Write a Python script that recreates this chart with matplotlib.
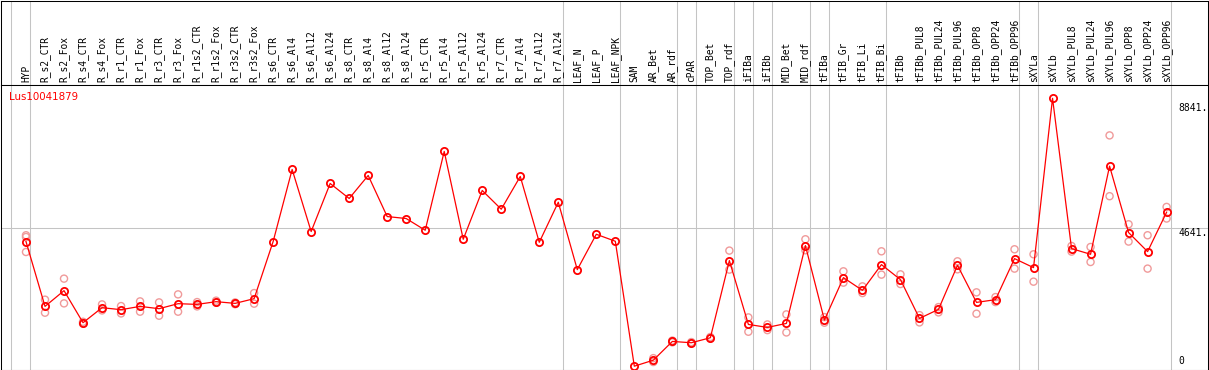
import matplotlib
matplotlib.use("Agg")
import matplotlib.pyplot as plt
import matplotlib.transforms as mtransforms

gene = "Lus10041879"

samples = [
    "HYP", "R_s2_CTR", "R_s2_Fox", "R_s4_CTR", "R_s4_Fox", "R_r1_CTR", "R_r1_Fox",
    "R_r3_CTR", "R_r3_Fox", "R_r1s2_CTR", "R_r1s2_Fox", "R_r3s2_CTR", "R_r3s2_Fox",
    "R_s6_CTR", "R_s6_Al4", "R_s6_Al12", "R_s6_Al24", "R_s8_CTR", "R_s8_Al4",
    "R_s8_Al12", "R_s8_Al24", "R_r5_CTR", "R_r5_Al4", "R_r5_Al12", "R_r5_Al24",
    "R_r7_CTR", "R_r7_Al4", "R_r7_Al12", "R_r7_Al24", "LEAF_N", "LEAF_P", "LEAF_NPK",
    "SAM", "AR_Bet", "AR_rdf", "cPAR", "TOP_Bet", "TOP_rdf", "iFIBa", "iFIBb",
    "MID_Bet", "MID_rdf", "tFIBa", "tFIB_Gr", "tFIB_Li", "tFIB_Bi", "tFIBb",
    "tFIBb_PUL8", "tFIBb_PUL24", "tFIBb_PUL96", "tFIBb_OPP8", "tFIBb_OPP24",
    "tFIBb_OPP96", "sXYLa", "sXYLb", "sXYLb_PUL8", "sXYLb_PUL24", "sXYLb_PUL96",
    "sXYLb_OPP8", "sXYLb_OPP24", "sXYLb_OPP96",
]

means = [
    4194, 2018, 2546, 1470, 1974, 1907, 2018, 1940, 2109, 2085, 2176, 2119, 2277,
    4194, 6615, 4530, 6144, 5640, 6413, 5034, 4967, 4574, 7220, 4271, 5909,
    5280, 6380, 4170, 5515, 3252, 4439, 4204,
    10, 212, 841, 797, 965, 3555, 1412, 1312, 1446, 4059, 1557, 2983, 2556, 3420,
    2916, 1614, 1917, 3397, 2152, 2243, 3622, 3319, 9003, 3958, 3767, 6726, 4496,
    3857, 5179,
]

replicates = [
    [4406, 4348, 3844], [2243, 1806], [2949, 2119], [1500, 1440], [2085, 1883],
    [2028, 1782], [2186, 1840], [2152, 1705], [2421, 1840], [2162, 2018],
    [2210, 2142], [2150, 2090], [2465, 2109],
    [], [], [], [], [], [], [], [], [], [], [], [], [], [], [], [], [], [], [],
    [], [280, 150], [870, 810], [820, 775], [990, 940], [3891, 3252],
    [1648, 1167], [1412, 1221], [1749, 1143], [4271, 3901], [1658, 1470],
    [3195, 2815], [2690, 2465], [3867, 3084], [3094, 2768], [1725, 1480],
    [1994, 1816], [3531, 3262], [2489, 1772], [2331, 2162], [3935, 3286],
    [3767, 2848], [], [4046, 3857], [4012, 3508], [7758, 5717], [4775, 4194],
    [4406, 3286], [5357, 4967],
]

# last sample index of each group (gray separators drawn just after it)
group_ends = [-1, 0, 28, 31, 34, 35, 37, 38, 39, 41, 42, 45, 52, 53, 60]
y_labels = [8841, 4641, 0]

W, H = 1209, 370
fig = plt.figure(figsize=(W / 100, H / 100), dpi=100)


def box(x0, y0, x1, y1):
    # pixel box measured from the top-left corner
    return [x0 / W, 1 - y1 / H, (x1 - x0) / W, (y1 - y0) / H]


step = 19.01
x_first = 26
xlim = ((1 - x_first) / step, (1208 - x_first) / step)

head = fig.add_axes(box(1, 0.5, 1208, 85))
ax = fig.add_axes(box(1, 85, 1208, 369.5))

for a in (head, ax):
    a.set_xlim(*xlim)
    a.set_xticks([])
    a.set_yticks([])
    for s in a.spines.values():
        s.set_linewidth(0.75)
        s.set_color("black")
    for g in group_ends:
        a.axvline(g + 0.23, color="#c4c4c4", lw=0.75, zorder=0)

head.set_ylim(0, 1)
trans = mtransforms.blended_transform_factory(head.transData, head.transAxes)
for i, name in enumerate(samples):
    head.text(i, 0.035, name, rotation=90, ha="center", va="bottom",
              fontsize=6.9, family="DejaVu Sans Mono", transform=trans)

ax.set_ylim(-101, 9450)
ax.axhline(4641, color="#c4c4c4", lw=0.75, zorder=0)

x = list(range(len(samples)))
for i, reps in enumerate(replicates):
    if reps:
        ax.scatter([i] * len(reps), reps, s=26, facecolors="none",
                   edgecolors="#f09a9a", linewidths=1.0, zorder=2)
ax.plot(x, means, color="red", lw=0.9, marker="o", ms=5.2, mfc="none",
        mew=1.3, zorder=3)

for v in y_labels:
    ax.text(60.64, v, f"{v}." if v else "0", ha="left",
            va="top" if v else "bottom", fontsize=7, family="DejaVu Sans Mono")

fig.text(9 / W, 1 - 97 / H, gene, color="red", ha="left", va="center",
         fontsize=7.4, family="DejaVu Sans")

fig.savefig("out.png", dpi=100)
